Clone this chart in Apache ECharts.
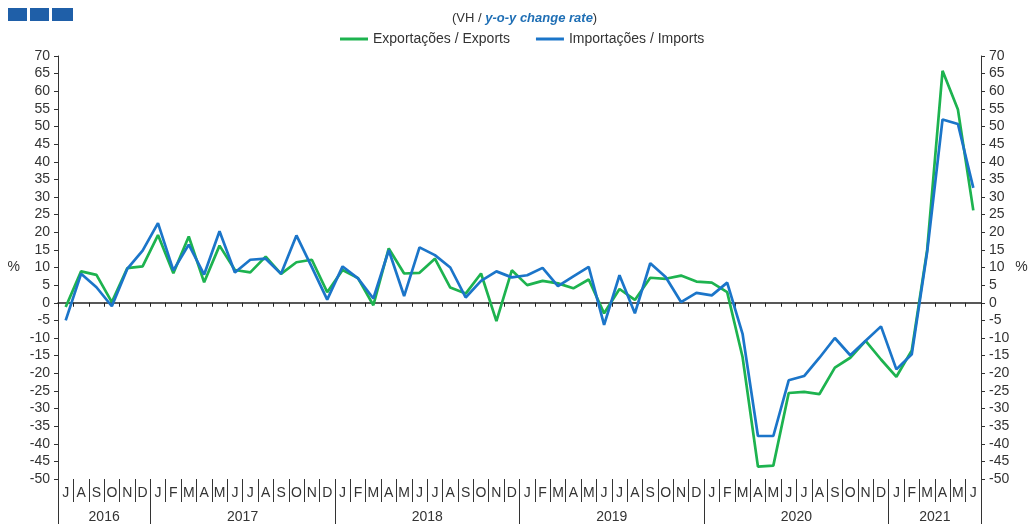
<!DOCTYPE html>
<html>
<head>
<meta charset="utf-8">
<script src="https://cdn.jsdelivr.net/npm/echarts@6/dist/echarts.min.js"></script>
<style>
html,body{margin:0;padding:0;background:#fff;}
#c{width:1028px;height:524px;}
</style>
</head>
<body>
<div id="c"></div>
<script>
// Months Jul 2016 – Jun 2021
const months = ['J','A','S','O','N','D',
  'J','F','M','A','M','J','J','A','S','O','N','D',
  'J','F','M','A','M','J','J','A','S','O','N','D',
  'J','F','M','A','M','J','J','A','S','O','N','D',
  'J','F','M','A','M','J','J','A','S','O','N','D',
  'J','F','M','A','M','J'];
const years = ['2016','2017','2018','2019','2020','2021'];
const yearCenters = [3, 12, 24, 36, 48, 57];
const yearBounds = [0, 6, 18, 30, 42, 54, 60];

const exportsYoY = [-1.2, 8.9, 7.9, 0.2, 9.8, 10.3,
  19.2, 8.4, 18.8, 5.8, 16.2, 9.3, 8.6, 13.1, 8.2, 11.5, 12.2, 3.0,
  9.3, 7.0, -0.7, 15.4, 8.3, 8.5, 12.5, 4.3, 2.6, 8.3, -5.2, 9.2,
  5.0, 6.2, 5.5, 4.1, 6.6, -3.0, 3.9, 0.8, 7.1, 6.8, 7.7, 6.0,
  5.7, 3.0, -15.4, -46.5, -46.2, -25.6, -25.3, -25.9, -18.4, -15.6, -10.8, -16.1,
  -21.0, -13.5, 15.0, 65.8, 54.8, 26.2];
const importsYoY = [-5.0, 8.2, 4.4, -1.0, 9.6, 14.8,
  22.6, 9.2, 16.5, 8.0, 20.3, 8.6, 12.2, 12.5, 8.2, 19.1, 10.1, 0.9,
  10.3, 6.9, 1.2, 14.9, 1.9, 15.7, 13.5, 10.0, 1.5, 6.2, 8.9, 7.2,
  7.8, 9.9, 4.7, 7.5, 10.2, -6.3, 7.8, -3.0, 11.2, 7.3, 0.2, 2.8,
  2.1, 5.7, -8.8, -37.8, -37.8, -22.0, -20.8, -15.6, -10.0, -14.9, -10.8, -6.7,
  -18.9, -14.6, 14.4, 52.0, 50.7, 32.6];

const FONT = 'Liberation Sans';
const TXT = '#333';
const FS = 14;
const chart = echarts.init(document.getElementById('c'), null, {renderer: 'canvas'});

const yAxisBase = {
  type: 'value', min: -50, max: 70, interval: 5,
  splitLine: {show: false},
  axisLine: {show: true, lineStyle: {color: '#333', width: 1}},
  axisTick: {show: true, length: 4, lineStyle: {color: '#333'}},
  axisLabel: {color: TXT, fontFamily: FONT, fontSize: FS, margin: 8},
  name: '%', nameLocation: 'middle', nameRotate: 0,
  nameTextStyle: {color: TXT, fontFamily: FONT, fontSize: FS}
};

chart.setOption({
  animation: false,
  title: {
    text: '{a|(VH / }{b|y-o-y change rate}{a|)}',
    left: 452, top: 12, padding: 0,
    textStyle: {
      fontWeight: 'normal',
      rich: {
        a: {color: TXT, fontFamily: FONT, fontSize: 13, fontWeight: 'normal'},
        b: {color: '#1F6FB5', fontFamily: FONT, fontSize: 13, fontWeight: 'bold', fontStyle: 'italic'}
      }
    }
  },
  legend: {
    top: 32, left: 340, padding: 0, itemWidth: 28, itemHeight: 3, itemGap: 26,
    icon: 'rect',
    textStyle: {color: TXT, fontFamily: FONT, fontSize: FS},
    data: ['Exportações / Exports', 'Importações / Imports']
  },
  graphic: [
    {type: 'rect', shape: {x: 8, y: 8, width: 19, height: 13}, style: {fill: '#1F5FA8'}},
    {type: 'rect', shape: {x: 30, y: 8, width: 19, height: 13}, style: {fill: '#1F5FA8'}},
    {type: 'rect', shape: {x: 52, y: 8, width: 21, height: 13}, style: {fill: '#1F5FA8'}}
  ],
  grid: {left: 58, right: 47, top: 56, bottom: 45, containLabel: false, outerBoundsMode: 'none'},
  xAxis: [
    {
      type: 'category', data: months, boundaryGap: true,
      axisLine: {show: true, onZero: true, lineStyle: {color: '#222', width: 1.5}},
      axisTick: {show: true, interval: 0, length: 4, lineStyle: {color: '#222'}},
      axisLabel: {show: false},
      splitLine: {show: false}
    },
    {
      type: 'category', data: months, boundaryGap: true, position: 'bottom',
      axisLine: {show: false, onZero: false},
      axisTick: {show: true, interval: 0, length: 23, lineStyle: {color: '#333'}},
      axisLabel: {show: true, interval: 0, color: TXT, fontFamily: FONT, fontSize: FS, margin: 7},
      splitLine: {show: false}
    },
    {
      type: 'value', min: 0, max: 60, position: 'bottom',
      axisLine: {show: false, onZero: false},
      axisTick: {show: true, customValues: yearBounds, length: 45, lineStyle: {color: '#333'}},
      axisLabel: {show: true, customValues: yearCenters, color: TXT, fontFamily: FONT, fontSize: FS, margin: 31,
        formatter: function (v) { return years[yearCenters.indexOf(v)] || ''; }},
      splitLine: {show: false}
    }
  ],
  yAxis: [
    Object.assign({}, yAxisBase, {position: 'left', nameGap: 38}),
    Object.assign({}, yAxisBase, {position: 'right', nameGap: 33})
  ],
  series: [
    {
      name: 'Exportações / Exports', type: 'line', xAxisIndex: 0, yAxisIndex: 0,
      data: exportsYoY, showSymbol: false, symbol: 'none',
      lineStyle: {color: '#1DB34F', width: 2.7}, itemStyle: {color: '#1DB34F'}, z: 2
    },
    {
      name: 'Importações / Imports', type: 'line', xAxisIndex: 0, yAxisIndex: 0,
      data: importsYoY, showSymbol: false, symbol: 'none',
      lineStyle: {color: '#1B75C9', width: 2.7}, itemStyle: {color: '#1B75C9'}, z: 3
    }
  ]
});
</script>
</body>
</html>
